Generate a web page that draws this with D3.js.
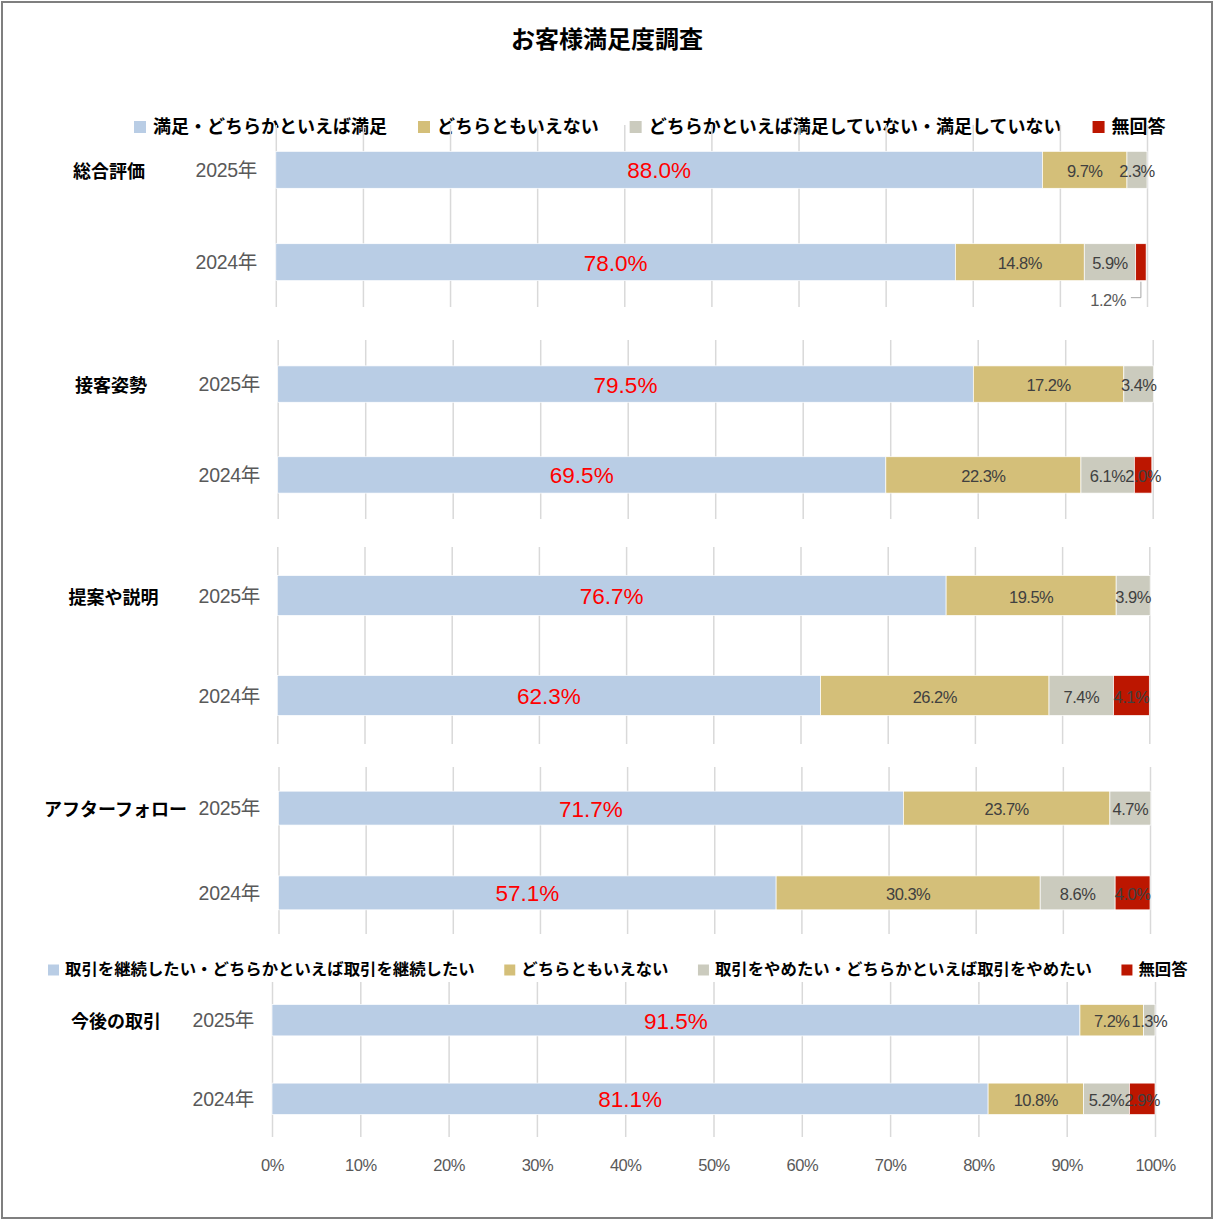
<!DOCTYPE html>
<html>
<head>
<meta charset="utf-8">
<script src="https://cdn.jsdelivr.net/npm/d3@7"></script>
<style>
  html, body { margin: 0; padding: 0; background: #fff; }
  svg { display: block; }
</style>
</head>
<body>
<script>
// ---- data ----
const categories = ["総合評価", "接客姿勢", "提案や説明", "アフターフォロー", "今後の取引"];
const years = ["2025年", "2024年"];
// values per category: [2025, 2024]
const satisfied    = [[88.0, 78.0], [79.5, 69.5], [76.7, 62.3], [71.7, 57.1], [91.5, 81.1]];
const neutral      = [[9.7, 14.8], [17.2, 22.3], [19.5, 26.2], [23.7, 30.3], [7.2, 10.8]];
const dissatisfied = [[2.3, 5.9], [3.4, 6.1], [3.9, 7.4], [4.7, 8.6], [1.3, 5.2]];
const noAnswer     = [[0, 1.2], [0, 2.0], [0, 4.1], [0, 4.0], [0, 2.9]];

const legendSatisfaction = ["満足・どちらかといえば満足", "どちらともいえない", "どちらかといえば満足していない・満足していない", "無回答"];
const legendContinuation = ["取引を継続したい・どちらかといえば取引を継続したい", "どちらともいえない", "取引をやめたい・どちらかといえば取引をやめたい", "無回答"];
const tickValues = [0, 10, 20, 30, 40, 50, 60, 70, 80, 90, 100];

const title = "お客様満足度調査";

// ---- styling / layout ----
const W = 1215, H = 1221;
const keys = ["s0", "s1", "s2", "s3"];
const colors = ["#B9CDE5", "#D4BF79", "#CBCBBE", "#BC1600"];
const numFont = "'Liberation Sans', 'Noto Sans CJK JP', sans-serif";
const jpFont = "'Noto Sans CJK JP', 'Noto Sans', sans-serif";

// each category sits in its own little chart, slightly offset like the pasted originals
const panels = [
  { gx0: 275.8, gx1: 1147.0, gy0: 125, gy1: 307,  catX: 109,   yearX: 257 },
  { gx0: 277.7, gx1: 1152.7, gy0: 340, gy1: 519,  catX: 111,   yearX: 260 },
  { gx0: 277.3, gx1: 1149.3, gy0: 547, gy1: 744,  catX: 113.5, yearX: 260 },
  { gx0: 278.5, gx1: 1150.0, gy0: 767, gy1: 934,  catX: 115.5, yearX: 260 },
  { gx0: 272.0, gx1: 1155.0, gy0: 982, gy1: 1137, catX: 116,   yearX: 254 }
];
const legends = [
  { names: legendSatisfaction, x: 134, y: 125, size: 18, sq: 12, toText: 19, gap: 31 },
  { names: legendContinuation, x: 48,  y: 968, size: 16.4, sq: 11, toText: 17, gap: 29.5 }
];

const svg = d3.select("body").append("svg")
  .attr("width", W).attr("height", H);

svg.append("rect")
  .attr("x", 2).attr("y", 2).attr("width", W - 5).attr("height", H - 5)
  .attr("fill", "#fff").attr("stroke", "#7f7f7f").attr("stroke-width", 2);

svg.append("text")
  .attr("x", 607).attr("y", 37)
  .attr("text-anchor", "middle").attr("dominant-baseline", "central")
  .style("font-family", jpFont).style("font-weight", "bold").style("font-size", "24px")
  .attr("fill", "#000")
  .text(title);

// legends
legends.forEach(lg => {
  const g = svg.append("g");
  let x = lg.x;
  lg.names.forEach((name, i) => {
    g.append("rect")
      .attr("x", x).attr("y", lg.y - lg.sq / 2 + 2)
      .attr("width", lg.sq).attr("height", lg.sq)
      .attr("fill", colors[i]);
    const t = g.append("text")
      .attr("x", x + lg.toText).attr("y", lg.y)
      .attr("dominant-baseline", "central")
      .style("font-family", jpFont).style("font-weight", "bold")
      .style("font-size", lg.size + "px")
      .attr("fill", "#000")
      .text(name);
    x += lg.toText + t.node().getComputedTextLength() + lg.gap;
  });
});

// panels
panels.forEach((p, pi) => {
  const rows = years.map((yr, yi) => ({
    year: yr,
    s0: satisfied[pi][yi], s1: neutral[pi][yi], s2: dissatisfied[pi][yi], s3: noAnswer[pi][yi]
  }));
  const stacked = d3.stack().keys(keys)(rows);

  const x = d3.scaleLinear().domain([0, 100]).range([p.gx0, p.gx1]);
  const y = d3.scaleBand().domain(years).range([p.gy0, p.gy1])
    .paddingInner(0.6).paddingOuter(0.285);

  const g = svg.append("g");
  const last = pi === panels.length - 1;

  // gridlines (+ tick labels on the last one)
  const axis = g.append("g")
    .attr("transform", `translate(0,${p.gy1})`)
    .call(d3.axisBottom(x).tickValues(tickValues)
      .tickSize(-(p.gy1 - p.gy0)).tickPadding(22)
      .tickFormat(last ? (d => d + "%") : ""));
  axis.select(".domain").remove();
  axis.selectAll(".tick line").attr("stroke", "#d9d9d9").attr("stroke-width", 1.5);
  axis.selectAll(".tick text")
    .attr("fill", "#595959")
    .style("font-family", numFont).style("font-size", "16.5px")
    .style("letter-spacing", "-0.5px");

  // bars
  const layers = g.selectAll("g.layer").data(stacked).join("g")
    .attr("class", "layer").attr("fill", (d, i) => colors[i]);
  layers.selectAll("rect").data(d => d.filter(s => s[1] - s[0] > 0)).join("rect")
    .attr("x", d => x(d[0]))
    .attr("y", d => y(d.data.year))
    .attr("width", d => x(d[1]) - x(d[0]))
    .attr("height", y.bandwidth())
    .attr("stroke", "#fff").attr("stroke-width", 0.7);

  // value labels
  stacked.forEach((layer, li) => {
    layer.forEach(seg => {
      const v = seg[1] - seg[0];
      if (v <= 0) return;
      const cx = x((seg[0] + seg[1]) / 2);
      const cy = y(seg.data.year) + y.bandwidth() / 2;
      const label = seg.data[keys[li]].toFixed(1) + "%";
      if (li === 3 && v < 1.5) {
        // tiny segment: label below with a leader line
        const by = y(seg.data.year) + y.bandwidth();
        g.append("path")
          .attr("d", `M${cx},${by + 1}V${by + 17}H${cx - 10}`)
          .attr("fill", "none").attr("stroke", "#a6a6a6").attr("stroke-width", 1);
        g.append("text")
          .attr("x", cx - 15).attr("y", by + 19)
          .attr("text-anchor", "end").attr("dominant-baseline", "central")
          .style("font-family", numFont).style("font-size", "16.5px")
          .style("letter-spacing", "-0.5px")
          .attr("fill", "#595959")
          .text(label);
        return;
      }
      g.append("text")
        .attr("x", cx).attr("y", cy + 1)
        .attr("text-anchor", "middle").attr("dominant-baseline", "central")
        .style("font-family", numFont)
        .style("font-size", li === 0 ? "22.5px" : "16.5px")
        .style("letter-spacing", li === 0 ? "0px" : "-0.5px")
        .attr("fill", li === 0 ? "#ff0000" : "#404040")
        .text(label);
    });
  });

  // year labels
  g.selectAll("text.year").data(years).join("text")
    .attr("class", "year")
    .attr("x", p.yearX)
    .attr("y", d => y(d) + y.bandwidth() / 2)
    .attr("text-anchor", "end").attr("dominant-baseline", "central")
    .style("font-family", numFont).style("font-size", "19.5px")
    .style("letter-spacing", "-0.3px")
    .attr("fill", "#595959")
    .text(d => d);

  // category label
  g.append("text")
    .attr("x", p.catX)
    .attr("y", y(years[0]) + y.bandwidth() / 2)
    .attr("text-anchor", "middle").attr("dominant-baseline", "central")
    .style("font-family", jpFont).style("font-weight", "bold").style("font-size", "18px")
    .attr("fill", "#000")
    .text(categories[pi]);
});
</script>
</body>
</html>
